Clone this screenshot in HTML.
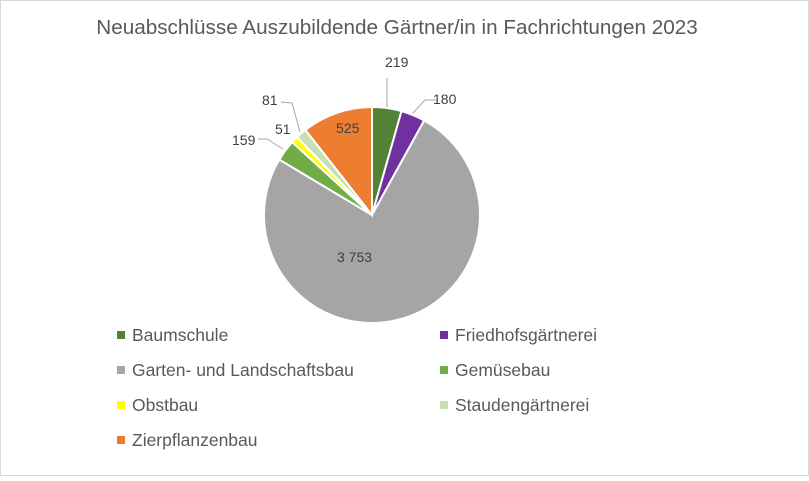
<!DOCTYPE html>
<html><head><meta charset="utf-8"><style>
body{margin:0;background:#fff;}
svg text{font-family:"Liberation Sans",sans-serif;}
</style></head><body>
<svg id="s" width="809" height="476" xmlns="http://www.w3.org/2000/svg">
<rect x="0.5" y="0.5" width="808" height="475" fill="#fff" stroke="#d9d9d9"/>
<text x="397" y="34" text-anchor="middle" font-size="20.7" fill="#595959">Neuabschlüsse Auszubildende Gärtner/in in Fachrichtungen 2023</text>
<g id="pie"></g>
<g stroke="#a6a6a6" fill="none" stroke-width="1">
<polyline points="387,107 387,78"/>
<polyline points="413,113 425,100 436,100"/>
<polyline points="300,132 292,103 281,102"/>
<polyline points="283,149 267,139 258,139"/>
</g>
<g font-size="14" fill="#404040">
<text x="385" y="67">219</text>
<text x="433" y="104">180</text>
<text x="262" y="105">81</text>
<text x="275" y="134">51</text>
<text x="232" y="145">159</text>
<text x="336" y="133">525</text>
<text x="337" y="262">3 753</text>
</g>
<g font-size="17.5" fill="#595959">
<rect x="117" y="331" width="8" height="8" fill="#548235"/><text x="132" y="341">Baumschule</text>
<rect x="117" y="366" width="8" height="8" fill="#a5a5a5"/><text x="132" y="376">Garten- und Landschaftsbau</text>
<rect x="117" y="401" width="8" height="8" fill="#ffff00"/><text x="132" y="411">Obstbau</text>
<rect x="117" y="436" width="8" height="8" fill="#ed7d31"/><text x="132" y="446">Zierpflanzenbau</text>
<rect x="440" y="331" width="8" height="8" fill="#7030a0"/><text x="455" y="341">Friedhofsgärtnerei</text>
<rect x="440" y="366" width="8" height="8" fill="#70ad47"/><text x="455" y="376">Gemüsebau</text>
<rect x="440" y="401" width="8" height="8" fill="#c5e0b4"/><text x="455" y="411">Staudengärtnerei</text>
</g>
</svg>
<script>
var d=[[219,"#548235"],[180,"#7030a0"],[3753,"#a5a5a5"],[159,"#70ad47"],[51,"#ffff00"],[81,"#c5e0b4"],[525,"#ed7d31"]];
var t=0;d.forEach(function(x){t+=x[0];});
var cx=372,cy=215,r=108,a=0,g=document.getElementById("pie"),h="";
d.forEach(function(x){
 var a2=a+x[0]/t*2*Math.PI;
 var p=function(q){return [cx+r*Math.sin(q),cy-r*Math.cos(q)];};
 var s=p(a),e=p(a2),l=(a2-a)>Math.PI?1:0;
 h+='<path d="M'+cx+','+cy+'L'+s[0]+','+s[1]+'A'+r+','+r+' 0 '+l+' 1 '+e[0]+','+e[1]+'Z" fill="'+x[1]+'" stroke="#fff" stroke-width="2"/>';
 a=a2;
});
g.innerHTML=h;
</script>
</body></html>
